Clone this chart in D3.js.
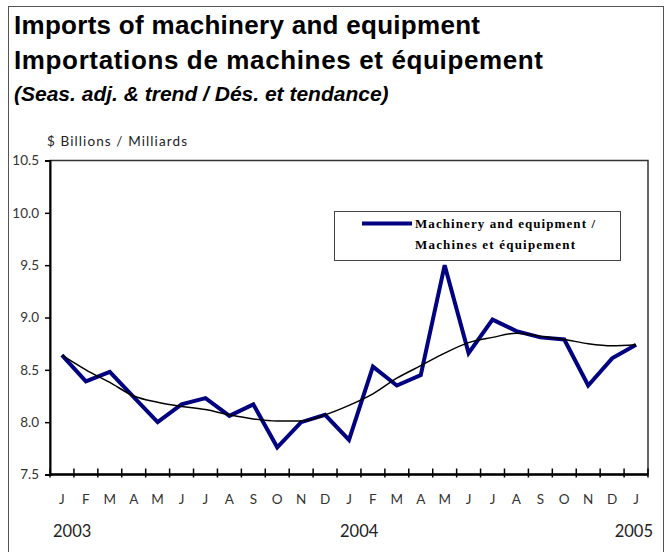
<!DOCTYPE html>
<html>
<head>
<meta charset="utf-8">
<script src="https://cdn.jsdelivr.net/npm/d3@7.9.0/dist/d3.min.js"></script>
<style>
  body { margin: 0; background: #fff; }
  svg { display: block; }
</style>
</head>
<body>
<svg id="chart" width="665" height="552"></svg>
<script>
// months Jan 2003 .. Jan 2005
const months = ['J','F','M','A','M','J','J','A','S','O','N','D',
                'J','F','M','A','M','J','J','A','S','O','N','D','J'];
const seasAdj = [8.64, 8.39, 8.48, 8.24, 8.00, 8.17, 8.23, 8.06, 8.17, 7.76, 8.00, 8.07,
                 7.83, 8.53, 8.35, 8.45, 9.50, 8.66, 8.98, 8.87, 8.81, 8.79, 8.35, 8.61, 8.74];
const trend = [8.64, 8.50, 8.38, 8.25, 8.19, 8.15, 8.12, 8.07, 8.03, 8.01, 8.01, 8.07,
               8.16, 8.27, 8.42, 8.54, 8.66, 8.76, 8.81, 8.85, 8.82, 8.79, 8.75, 8.73, 8.74];
const yTicks = [7.5, 8.0, 8.5, 9.0, 9.5, 10.0, 10.5];
const years = ['2003', '2004', '2005'];

const svg = d3.select('#chart');
const plotL = 50, plotR = 648, plotT = 160.5, plotB = 474.5;

// outer frame
svg.append('rect')
  .attr('x', 8.5).attr('y', 6.5)
  .attr('width', 655).attr('height', 560)
  .attr('fill', 'none').attr('stroke', '#555').attr('stroke-width', 1);

// titles
const titleFont = '"Liberation Sans", Arial, sans-serif';
svg.append('text').attr('x', 14).attr('y', 34)
  .attr('font-family', titleFont).attr('font-weight', 'bold').attr('font-size', 26)
  .attr('textLength', 466).attr('lengthAdjust', 'spacing')
  .text('Imports of machinery and equipment');
svg.append('text').attr('x', 14).attr('y', 69)
  .attr('font-family', titleFont).attr('font-weight', 'bold').attr('font-size', 26)
  .attr('textLength', 529).attr('lengthAdjust', 'spacing')
  .text('Importations de machines et équipement');
svg.append('text').attr('x', 14).attr('y', 101)
  .attr('font-family', titleFont).attr('font-weight', 'bold').attr('font-style', 'italic')
  .attr('font-size', 21)
  .text('(Seas. adj. & trend / Dés. et tendance)');

svg.append('text').attr('x', 47).attr('y', 146)
  .attr('font-family', 'Lato, sans-serif').attr('font-size', 13.5).attr('fill', '#222')
  .attr('textLength', 140).attr('lengthAdjust', 'spacing')
  .text('$ Billions / Milliards');

const x = d3.scaleBand().domain(d3.range(months.length)).range([plotL, plotR]);
const y = d3.scaleLinear().domain([7.5, 10.5]).range([plotB, plotT]);

// plot frame (top / right)
svg.append('rect')
  .attr('x', plotL).attr('y', plotT)
  .attr('width', plotR - plotL).attr('height', plotB - plotT)
  .attr('fill', 'none').attr('stroke', '#333').attr('stroke-width', 1.5);

// y axis
const yAxis = svg.append('g')
  .attr('transform', `translate(${plotL},0)`)
  .call(d3.axisLeft(y).tickValues(yTicks).tickFormat(d3.format('.1f')).tickSize(5).tickPadding(6));
yAxis.select('.domain').attr('stroke', '#000').attr('stroke-width', 2);
yAxis.selectAll('.tick line').attr('stroke', '#000').attr('stroke-width', 1.5);
yAxis.selectAll('.tick text')
  .attr('font-family', 'Lato, sans-serif').attr('font-size', 13.5).attr('fill', '#333');

// x axis: ticks at band boundaries, labels at band centres
const xAxis = svg.append('g').attr('transform', `translate(0,${plotB})`);
xAxis.append('line')
  .attr('x1', plotL).attr('x2', plotR).attr('stroke', '#000').attr('stroke-width', 2.5);
xAxis.selectAll('line.tk')
  .data(d3.range(months.length + 1))
  .join('line').attr('class', 'tk')
  .attr('x1', i => plotL + i * x.step()).attr('x2', i => plotL + i * x.step())
  .attr('y1', -6).attr('y2', 3)
  .attr('stroke', '#000').attr('stroke-width', 1.5);
xAxis.selectAll('text')
  .data(months)
  .join('text')
  .attr('x', (d, i) => x(i) + x.bandwidth() / 2)
  .attr('y', 29)
  .attr('text-anchor', 'middle')
  .attr('font-family', 'Lato, sans-serif').attr('font-size', 13.5).attr('fill', '#333')
  .text(d => d);

// year labels
const yearPos = [[x(0) + 3, 'start'], [x(12) + 3, 'start'], [x(24) + x.bandwidth() + 5, 'end']];
svg.selectAll('text.year')
  .data(years)
  .join('text').attr('class', 'year')
  .attr('x', (d, i) => yearPos[i][0])
  .attr('y', 537)
  .attr('text-anchor', (d, i) => yearPos[i][1])
  .attr('font-family', 'Lato, sans-serif').attr('font-size', 16.5).attr('fill', '#222')
  .text(d => d);

// lines
const line = d3.line()
  .x((d, i) => x(i) + x.bandwidth() / 2)
  .y(d => y(d));
const smooth = d3.line()
  .x((d, i) => x(i) + x.bandwidth() / 2)
  .y(d => y(d))
  .curve(d3.curveMonotoneX);

svg.append('path')
  .datum(seasAdj)
  .attr('d', line)
  .attr('fill', 'none').attr('stroke', '#000080').attr('stroke-width', 4)
  .attr('stroke-linejoin', 'miter');
svg.append('path')
  .datum(trend)
  .attr('d', smooth)
  .attr('fill', 'none').attr('stroke', '#000').attr('stroke-width', 1.5);

// legend
const lg = svg.append('g');
lg.append('rect')
  .attr('x', 334.5).attr('y', 211.5).attr('width', 286).attr('height', 49)
  .attr('fill', '#fff').attr('stroke', '#444').attr('stroke-width', 1);
lg.append('line')
  .attr('x1', 362).attr('x2', 412).attr('y1', 223.5).attr('y2', 223.5)
  .attr('stroke', '#000080').attr('stroke-width', 4);
lg.append('text').attr('x', 415).attr('y', 228)
  .attr('font-family', '"Liberation Serif", "Times New Roman", serif')
  .attr('font-weight', 'bold').attr('font-size', 13)
  .attr('textLength', 180).attr('lengthAdjust', 'spacing')
  .text('Machinery and equipment /');
lg.append('text').attr('x', 415).attr('y', 249)
  .attr('font-family', '"Liberation Serif", "Times New Roman", serif')
  .attr('font-weight', 'bold').attr('font-size', 13)
  .attr('textLength', 160).attr('lengthAdjust', 'spacing')
  .text('Machines et équipement');
</script>
</body>
</html>
